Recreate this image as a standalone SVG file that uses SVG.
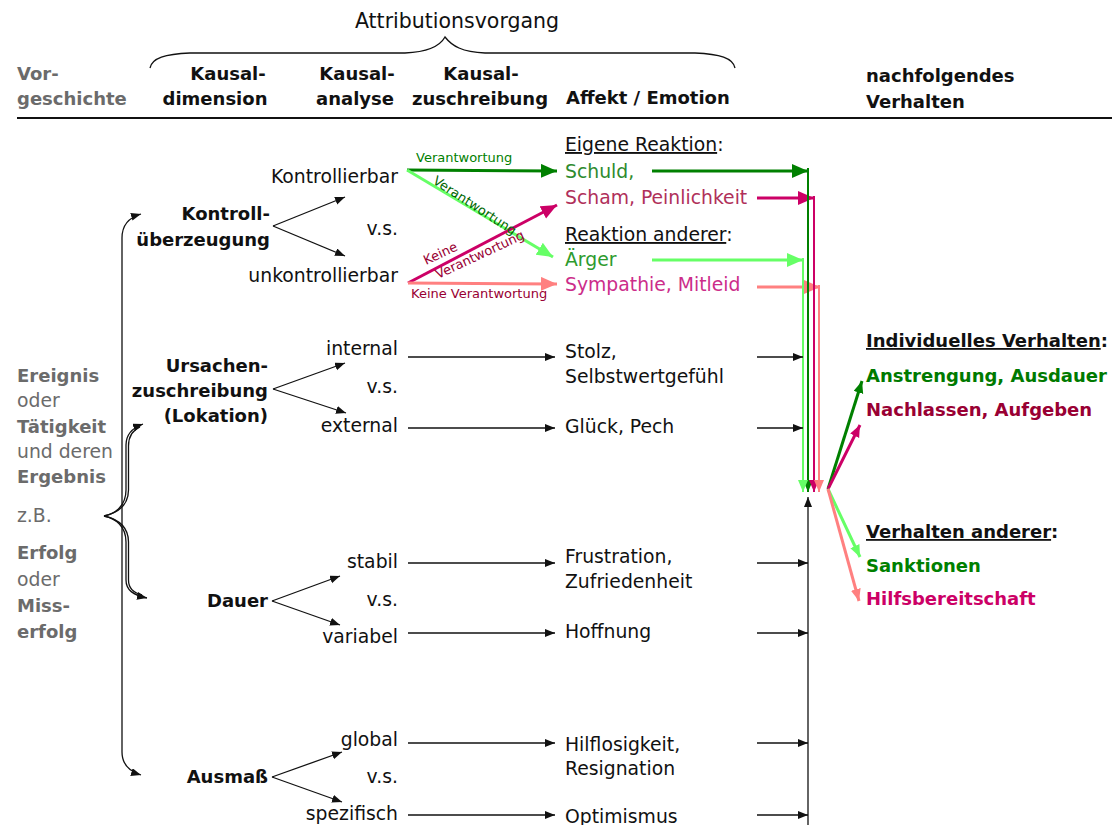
<svg xmlns="http://www.w3.org/2000/svg" width="1112" height="825" viewBox="0 0 1112 825">
  <style>
    text { font-family: "DejaVu Sans", Verdana, sans-serif; }
    .reg { font-size: 18.8px; fill: #111; }
    .b { font-size: 18px; font-weight: bold; fill: #111; }
    .gray { fill: #6b6b6b; }
    .small { font-size: 13px; }
    .thin { fill: none; stroke: #111; stroke-width: 1.3; }
    .ul { text-decoration: underline; }
  </style>
  <defs>
    <marker id="ah" markerUnits="userSpaceOnUse" markerWidth="11" markerHeight="9" refX="10" refY="4" orient="auto">
      <path d="M0,0 L10,4 L0,8 z" fill="#111"/>
    </marker>
    <marker id="ah-dg" markerUnits="userSpaceOnUse" markerWidth="18" markerHeight="15" refX="16" refY="7" orient="auto">
      <path d="M0,0 L16,7 L0,14 z" fill="#008000"/>
    </marker>
    <marker id="ah-lg" markerUnits="userSpaceOnUse" markerWidth="18" markerHeight="15" refX="16" refY="7" orient="auto">
      <path d="M0,0 L16,7 L0,14 z" fill="#66ff66"/>
    </marker>
    <marker id="ah-mg" markerUnits="userSpaceOnUse" markerWidth="18" markerHeight="15" refX="16" refY="7" orient="auto">
      <path d="M0,0 L16,7 L0,14 z" fill="#cc0066"/>
    </marker>
    <marker id="ah-sa" markerUnits="userSpaceOnUse" markerWidth="18" markerHeight="15" refX="16" refY="7" orient="auto">
      <path d="M0,0 L16,7 L0,14 z" fill="#ff8080"/>
    </marker>
    <marker id="ahs-dg" markerUnits="userSpaceOnUse" markerWidth="13" markerHeight="11" refX="12" refY="5" orient="auto">
      <path d="M0,0 L12,5 L0,10 z" fill="#008000"/>
    </marker>
    <marker id="ahs-lg" markerUnits="userSpaceOnUse" markerWidth="13" markerHeight="11" refX="12" refY="5" orient="auto">
      <path d="M0,0 L12,5 L0,10 z" fill="#66ff66"/>
    </marker>
    <marker id="ahs-mg" markerUnits="userSpaceOnUse" markerWidth="13" markerHeight="11" refX="12" refY="5" orient="auto">
      <path d="M0,0 L12,5 L0,10 z" fill="#cc0066"/>
    </marker>
    <marker id="ahs-sa" markerUnits="userSpaceOnUse" markerWidth="13" markerHeight="11" refX="12" refY="5" orient="auto">
      <path d="M0,0 L12,5 L0,10 z" fill="#ff8080"/>
    </marker>
  </defs>

  <!-- header -->
  <g id="header">
    <text x="457" y="28" class="reg" text-anchor="middle" style="font-size:20.5px">Attributionsvorgang</text>
    <path class="thin" d="M150,68 C152,58 165,54 190,53 L405,53 C428,52 440,46 445,37 C452,46 462,52 485,53 L695,53 C720,54 733,58 735,68"/>
    <text x="17" y="80" class="b gray">Vor-</text>
    <text x="17" y="105" class="b gray">geschichte</text>
    <text x="228" y="80" class="b" text-anchor="middle">Kausal-</text>
    <text x="215" y="105" class="b" text-anchor="middle">dimension</text>
    <text x="357" y="80" class="b" text-anchor="middle">Kausal-</text>
    <text x="355" y="105" class="b" text-anchor="middle">analyse</text>
    <text x="481" y="80" class="b" text-anchor="middle">Kausal-</text>
    <text x="480" y="105" class="b" text-anchor="middle">zuschreibung</text>
    <text x="566" y="104" class="b">Affekt / Emotion</text>
    <text x="866" y="82" class="b">nachfolgendes</text>
    <text x="866" y="108" class="b">Verhalten</text>
    <line x1="17" y1="118" x2="1112" y2="118" stroke="#111" stroke-width="2"/>
  </g>

  <!-- antecedents -->
  <g id="vorgeschichte">
    <text x="17" y="382" class="b gray">Ereignis</text>
    <text x="17" y="407" class="reg gray">oder</text>
    <text x="17" y="433" class="b gray">Tätigkeit</text>
    <text x="17" y="458" class="reg gray">und deren</text>
    <text x="17" y="483" class="b gray">Ergebnis</text>
    <text x="17" y="522" class="reg gray">z.B.</text>
    <text x="17" y="559" class="b gray">Erfolg</text>
    <text x="17" y="586" class="reg gray">oder</text>
    <text x="17" y="612" class="b gray">Miss-</text>
    <text x="17" y="638" class="b gray">erfolg</text>
  </g>

  <!-- causal dimensions -->
  <g id="kontrolle">
    <text x="270" y="220" class="b" text-anchor="end">Kontroll-</text>
    <text x="270" y="246" class="b" text-anchor="end">überzeugung</text>
    <text x="398" y="183" class="reg" text-anchor="end">Kontrollierbar</text>
    <text x="398" y="235" class="reg" text-anchor="end">v.s.</text>
    <text x="398" y="282" class="reg" text-anchor="end">unkontrollierbar</text>
  </g>
  <g id="lokation">
    <text x="268" y="372" class="b" text-anchor="end">Ursachen-</text>
    <text x="268" y="397" class="b" text-anchor="end">zuschreibung</text>
    <text x="268" y="422" class="b" text-anchor="end">(Lokation)</text>
    <text x="398" y="355" class="reg" text-anchor="end">internal</text>
    <text x="398" y="393" class="reg" text-anchor="end">v.s.</text>
    <text x="398" y="432" class="reg" text-anchor="end">external</text>
  </g>
  <g id="dauer">
    <text x="268" y="607" class="b" text-anchor="end">Dauer</text>
    <text x="398" y="568" class="reg" text-anchor="end">stabil</text>
    <text x="398" y="606" class="reg" text-anchor="end">v.s.</text>
    <text x="398" y="643" class="reg" text-anchor="end">variabel</text>
  </g>
  <g id="ausmass">
    <text x="268" y="783" class="b" text-anchor="end">Ausmaß</text>
    <text x="398" y="746" class="reg" text-anchor="end">global</text>
    <text x="398" y="783" class="reg" text-anchor="end">v.s.</text>
    <text x="398" y="820" class="reg" text-anchor="end">spezifisch</text>
  </g>

  <!-- emotions -->
  <g id="affekt-kontrolle">
    <text x="565" y="151" class="reg"><tspan class="ul">Eigene Reaktion</tspan>:</text>
    <text x="565" y="178" class="reg" style="fill:#2e8b2e">Schuld,</text>
    <text x="565" y="204" class="reg" style="fill:#b0305a">Scham, Peinlichkeit</text>
    <text x="565" y="241" class="reg"><tspan class="ul">Reaktion anderer</tspan>:</text>
    <text x="565" y="266" class="reg" style="fill:#2e9b2e">Ärger</text>
    <text x="565" y="291" class="reg" style="fill:#cc2d8a">Sympathie, Mitleid</text>
  </g>
  <g id="affekt-lokation">
    <text x="565" y="358" class="reg">Stolz,</text>
    <text x="565" y="383" class="reg">Selbstwertgefühl</text>
    <text x="565" y="433" class="reg">Glück, Pech</text>
  </g>
  <g id="affekt-dauer">
    <text x="565" y="563" class="reg">Frustration,</text>
    <text x="565" y="588" class="reg">Zufriedenheit</text>
    <text x="565" y="638" class="reg">Hoffnung</text>
  </g>
  <g id="affekt-ausmass">
    <text x="565" y="751" class="reg">Hilflosigkeit,</text>
    <text x="565" y="775" class="reg">Resignation</text>
    <text x="565" y="823" class="reg">Optimismus</text>
  </g>

  <!-- subsequent behaviour -->
  <g id="verhalten-individuell">
    <text x="866" y="347" class="b"><tspan class="ul">Individuelles Verhalten</tspan>:</text>
    <text x="866" y="382" class="b" style="fill:#007a00">Anstrengung, Ausdauer</text>
    <text x="866" y="416" class="b" style="fill:#990033">Nachlassen, Aufgeben</text>
  </g>
  <g id="verhalten-andere">
    <text x="866" y="538" class="b"><tspan class="ul">Verhalten anderer</tspan>:</text>
    <text x="866" y="572" class="b" style="fill:#008000">Sanktionen</text>
    <text x="866" y="605" class="b" style="fill:#cc0066">Hilfsbereitschaft</text>
  </g>

  <!-- connectors -->
  <g id="connectors">
    <!-- left bracket -->
    <path class="thin" d="M122,500 L122,238 C122,226 127,218 141,214" marker-end="url(#ah)"/>
    <path class="thin" d="M122,500 L122,752 C122,764 128,771 141,775" marker-end="url(#ah)"/>
    <path class="thin" stroke-width="1" d="M104,516 C115,514 126,506 126,490 L126,445 C126,434 132,428 143,424" marker-end="url(#ah)"/>
    <path class="thin" stroke-width="1" d="M104,516 C117,513 128.5,506 128.5,490 L128.5,446 C128.5,436 133,430 140,427"/>
    <path class="thin" stroke-width="1" d="M104,516 C115,518 126,526 126,542 L126,580 C126,590 133,595 147,598" marker-end="url(#ah)"/>
    <path class="thin" stroke-width="1" d="M104,516 C117,519 128.5,526 128.5,542 L128.5,580 C128.5,588 134,593 142,595"/>

    <!-- forks -->
    <path class="thin" d="M273,226 L345,197" marker-end="url(#ah)"/>
    <path class="thin" d="M273,226 L345,256" marker-end="url(#ah)"/>
    <path class="thin" d="M273,389 L345,363" marker-end="url(#ah)"/>
    <path class="thin" d="M273,389 L346,413" marker-end="url(#ah)"/>
    <path class="thin" d="M272,601 L340,576" marker-end="url(#ah)"/>
    <path class="thin" d="M272,601 L340,625" marker-end="url(#ah)"/>
    <path class="thin" d="M272,777 L342,752" marker-end="url(#ah)"/>
    <path class="thin" d="M272,777 L342,802" marker-end="url(#ah)"/>

    <!-- attribution to emotion -->
    <line x1="408" y1="357" x2="555" y2="357" class="thin" marker-end="url(#ah)"/>
    <line x1="408" y1="428" x2="555" y2="428" class="thin" marker-end="url(#ah)"/>
    <line x1="408" y1="563" x2="555" y2="563" class="thin" marker-end="url(#ah)"/>
    <line x1="408" y1="633" x2="555" y2="633" class="thin" marker-end="url(#ah)"/>
    <line x1="408" y1="743" x2="555" y2="743" class="thin" marker-end="url(#ah)"/>
    <line x1="408" y1="815" x2="555" y2="815" class="thin" marker-end="url(#ah)"/>

    <!-- responsibility arrows -->
    <line x1="407" y1="170" x2="557" y2="171" stroke="#008000" stroke-width="3" marker-end="url(#ah-dg)"/>
    <line x1="407" y1="170" x2="553" y2="257" stroke="#66ff66" stroke-width="3" marker-end="url(#ah-lg)"/>
    <line x1="408" y1="283" x2="557" y2="205" stroke="#cc0066" stroke-width="3" marker-end="url(#ah-mg)"/>
    <line x1="408" y1="283" x2="557" y2="284" stroke="#ff8080" stroke-width="3" marker-end="url(#ah-sa)"/>
    <text x="416" y="162" class="small" style="fill:#008000">Verantwortung</text>
    <text x="432" y="183" class="small" style="fill:#006600" transform="rotate(33 432 183)">Verantwortung</text>
    <text x="426" y="265" class="small" style="fill:#990033" transform="rotate(-25 426 265)">Keine</text>
    <text x="438" y="279" class="small" style="fill:#990033" transform="rotate(-25 438 279)">Verantwortung</text>
    <text x="411" y="298" class="small" style="fill:#990033">Keine Verantwortung</text>

    <!-- emotion to behaviour collectors -->
    <line x1="652" y1="171" x2="808" y2="171" stroke="#008000" stroke-width="3" marker-end="url(#ah-dg)"/>
    <line x1="757" y1="198" x2="814" y2="198" stroke="#cc0066" stroke-width="3" marker-end="url(#ah-mg)"/>
    <line x1="652" y1="260" x2="803" y2="260" stroke="#66ff66" stroke-width="3" marker-end="url(#ah-lg)"/>
    <line x1="757" y1="287" x2="820" y2="287" stroke="#ff8080" stroke-width="3" marker-end="url(#ah-sa)"/>
    <line x1="808" y1="168" x2="808" y2="492" stroke="#008000" stroke-width="2" marker-end="url(#ahs-dg)"/>
    <line x1="814" y1="196" x2="814" y2="492" stroke="#cc0066" stroke-width="2" marker-end="url(#ahs-mg)"/>
    <line x1="803" y1="258" x2="803" y2="492" stroke="#66ff66" stroke-width="2" marker-end="url(#ahs-lg)"/>
    <line x1="819" y1="285" x2="819" y2="492" stroke="#ff8080" stroke-width="2" marker-end="url(#ahs-sa)"/>

    <line x1="757" y1="357" x2="803" y2="357" class="thin" marker-end="url(#ah)"/>
    <line x1="757" y1="428" x2="803" y2="428" class="thin" marker-end="url(#ah)"/>
    <line x1="757" y1="563" x2="808" y2="563" class="thin" marker-end="url(#ah)"/>
    <line x1="757" y1="633" x2="808" y2="633" class="thin" marker-end="url(#ah)"/>
    <line x1="757" y1="743" x2="808" y2="743" class="thin" marker-end="url(#ah)"/>
    <line x1="757" y1="815" x2="808" y2="815" class="thin" marker-end="url(#ah)"/>
    <line x1="808" y1="825" x2="808" y2="497" class="thin" marker-end="url(#ah)"/>

    <!-- behaviour outcomes -->
    <line x1="828" y1="489" x2="862" y2="381" stroke="#008000" stroke-width="3" marker-end="url(#ahs-dg)"/>
    <line x1="828" y1="489" x2="860" y2="425" stroke="#cc0066" stroke-width="3" marker-end="url(#ahs-mg)"/>
    <line x1="828" y1="489" x2="860" y2="557" stroke="#66ff66" stroke-width="3" marker-end="url(#ahs-lg)"/>
    <line x1="828" y1="489" x2="859" y2="601" stroke="#ff8080" stroke-width="3" marker-end="url(#ahs-sa)"/>
  </g>
</svg>
